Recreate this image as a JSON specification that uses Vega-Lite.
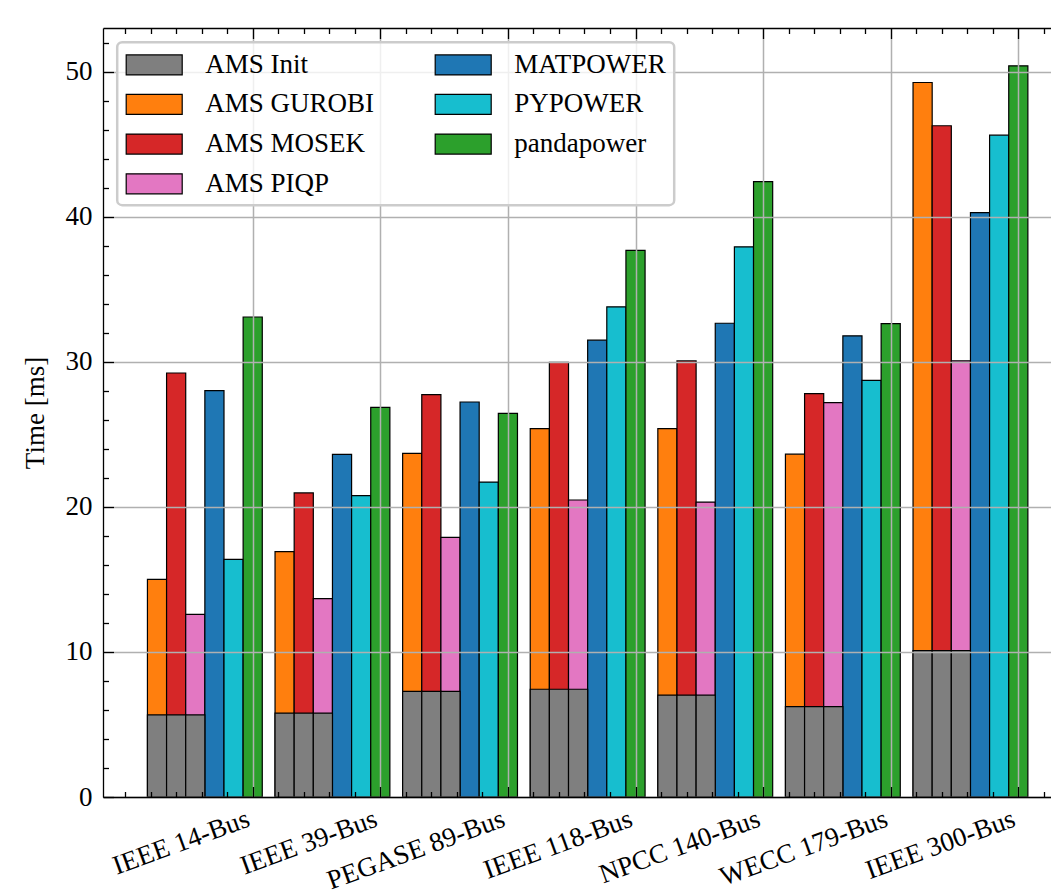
{
  "$schema": "https://vega.github.io/schema/vega-lite/v6.json",
  "width": 948,
  "height": 769,
  "autosize": {"type": "none"},
  "padding": {"left": 103, "top": 28, "right": 0, "bottom": 97},
  "background": "white",
  "config": {
    "view": {"stroke": null},
    "font": "Liberation Serif"
  },
  "data": {
    "values": [
      {"case": "IEEE 14-Bus", "solver": "AMS GUROBI", "init": 5.66, "total": 15.01},
      {"case": "IEEE 14-Bus", "solver": "AMS MOSEK", "init": 5.66, "total": 29.24},
      {"case": "IEEE 14-Bus", "solver": "AMS PIQP", "init": 5.66, "total": 12.6},
      {"case": "IEEE 14-Bus", "solver": "MATPOWER", "init": null, "total": 28.02},
      {"case": "IEEE 14-Bus", "solver": "PYPOWER", "init": null, "total": 16.39},
      {"case": "IEEE 14-Bus", "solver": "pandapower", "init": null, "total": 33.1},
      {"case": "IEEE 39-Bus", "solver": "AMS GUROBI", "init": 5.79, "total": 16.92},
      {"case": "IEEE 39-Bus", "solver": "AMS MOSEK", "init": 5.79, "total": 20.97},
      {"case": "IEEE 39-Bus", "solver": "AMS PIQP", "init": 5.79, "total": 13.68},
      {"case": "IEEE 39-Bus", "solver": "MATPOWER", "init": null, "total": 23.63},
      {"case": "IEEE 39-Bus", "solver": "PYPOWER", "init": null, "total": 20.78},
      {"case": "IEEE 39-Bus", "solver": "pandapower", "init": null, "total": 26.87},
      {"case": "PEGASE 89-Bus", "solver": "AMS GUROBI", "init": 7.29, "total": 23.7},
      {"case": "PEGASE 89-Bus", "solver": "AMS MOSEK", "init": 7.29, "total": 27.75},
      {"case": "PEGASE 89-Bus", "solver": "AMS PIQP", "init": 7.29, "total": 17.91},
      {"case": "PEGASE 89-Bus", "solver": "MATPOWER", "init": null, "total": 27.24},
      {"case": "PEGASE 89-Bus", "solver": "PYPOWER", "init": null, "total": 21.72},
      {"case": "PEGASE 89-Bus", "solver": "pandapower", "init": null, "total": 26.46},
      {"case": "IEEE 118-Bus", "solver": "AMS GUROBI", "init": 7.43, "total": 25.4},
      {"case": "IEEE 118-Bus", "solver": "AMS MOSEK", "init": 7.43, "total": 29.98},
      {"case": "IEEE 118-Bus", "solver": "AMS PIQP", "init": 7.43, "total": 20.48},
      {"case": "IEEE 118-Bus", "solver": "MATPOWER", "init": null, "total": 31.5},
      {"case": "IEEE 118-Bus", "solver": "PYPOWER", "init": null, "total": 33.8},
      {"case": "IEEE 118-Bus", "solver": "pandapower", "init": null, "total": 37.7},
      {"case": "NPCC 140-Bus", "solver": "AMS GUROBI", "init": 7.02, "total": 25.4},
      {"case": "NPCC 140-Bus", "solver": "AMS MOSEK", "init": 7.02, "total": 30.07},
      {"case": "NPCC 140-Bus", "solver": "AMS PIQP", "init": 7.02, "total": 20.34},
      {"case": "NPCC 140-Bus", "solver": "MATPOWER", "init": null, "total": 32.67},
      {"case": "NPCC 140-Bus", "solver": "PYPOWER", "init": null, "total": 37.94},
      {"case": "NPCC 140-Bus", "solver": "pandapower", "init": null, "total": 42.43},
      {"case": "WECC 179-Bus", "solver": "AMS GUROBI", "init": 6.23, "total": 23.64},
      {"case": "WECC 179-Bus", "solver": "AMS MOSEK", "init": 6.23, "total": 27.81},
      {"case": "WECC 179-Bus", "solver": "AMS PIQP", "init": 6.23, "total": 27.2},
      {"case": "WECC 179-Bus", "solver": "MATPOWER", "init": null, "total": 31.8},
      {"case": "WECC 179-Bus", "solver": "PYPOWER", "init": null, "total": 28.73},
      {"case": "WECC 179-Bus", "solver": "pandapower", "init": null, "total": 32.64},
      {"case": "IEEE 300-Bus", "solver": "AMS GUROBI", "init": 10.1, "total": 49.27},
      {"case": "IEEE 300-Bus", "solver": "AMS MOSEK", "init": 10.1, "total": 46.29},
      {"case": "IEEE 300-Bus", "solver": "AMS PIQP", "init": 10.1, "total": 30.08},
      {"case": "IEEE 300-Bus", "solver": "MATPOWER", "init": null, "total": 40.3},
      {"case": "IEEE 300-Bus", "solver": "PYPOWER", "init": null, "total": 45.64},
      {"case": "IEEE 300-Bus", "solver": "pandapower", "init": null, "total": 50.42}
    ]
  },
  "resolve": {"scale": {"x": "independent"}, "axis": {"x": "independent"}},
  "layer": [
    {
      "mark": {"type": "bar", "stroke": "black", "strokeWidth": 1.2},
      "encoding": {
        "x": {
          "field": "case", "type": "nominal",
          "scale": {
            "type": "band",
            "domain": ["IEEE 14-Bus", "IEEE 39-Bus", "PEGASE 89-Bus", "IEEE 118-Bus", "NPCC 140-Bus", "WECC 179-Bus", "IEEE 300-Bus"],
            "paddingInner": 0.1, "paddingOuter": 0.264734, "align": 0.6577, "round": false
          },
          "axis": null
        },
        "xOffset": {
          "field": "solver", "type": "nominal",
          "scale": {"domain": ["AMS GUROBI", "AMS MOSEK", "AMS PIQP", "MATPOWER", "PYPOWER", "pandapower"], "paddingInner": 0, "paddingOuter": 0}
        },
        "y": {
          "field": "total", "type": "quantitative",
          "scale": {"domain": [0, 53.03], "nice": false, "zero": true},
          "axis": {
            "values": [0, 2, 4, 6, 8, 10, 12, 14, 16, 18, 20, 22, 24, 26, 28, 30, 32, 34, 36, 38, 40, 42, 44, 46, 48, 50, 52],
            "tickCount": 200,
            "format": "d",
            "tickSize": {"condition": {"test": "datum.value % 10 === 0", "value": -10.5}, "value": -5.5},
            "tickColor": "black", "tickWidth": 1.3,
            "grid": true, "gridColor": "#b0b0b0", "gridWidth": 1.5,
            "gridOpacity": {"condition": {"test": "datum.value % 10 === 0", "value": 1}, "value": 0},
            "labelExpr": "datum.value % 10 === 0 ? datum.label : ''",
            "labelFont": "Liberation Serif", "labelFontSize": 27, "labelColor": "black",
            "labelPadding": 21.5, "labelOverlap": false, "labelFlush": false,
            "domainColor": "black", "domainWidth": 1.3,
            "title": "Time [ms]", "titleFont": "Liberation Serif", "titleFontSize": 27,
            "titleFontWeight": "normal", "titleColor": "black",
            "titleAngle": -90, "titleX": -60, "titleY": 384.5,
            "titleAlign": "center", "titleBaseline": "alphabetic",
            "zindex": 1
          }
        },
        "color": {
          "field": "solver", "type": "nominal",
          "scale": {
            "domain": ["AMS Init", "AMS GUROBI", "AMS MOSEK", "AMS PIQP", "MATPOWER", "PYPOWER", "pandapower"],
            "range": ["#7f7f7f", "#ff7f0e", "#d62728", "#e377c2", "#1f77b4", "#17becf", "#2ca02c"]
          },
          "legend": {
            "orient": "none", "legendX": 14.2, "legendY": 14.2,
            "title": null, "columns": 2,
            "symbolType": "M-1,-0.741H3.148V0.741H-1Z", "symbolSize": 729,
            "symbolStrokeColor": "black", "symbolStrokeWidth": 1.2, "symbolOpacity": 1,
            "labelFont": "Liberation Serif", "labelFontSize": 27, "labelColor": "black",
            "labelLimit": 400, "labelOffset": 51,
            "columnPadding": 58, "rowPadding": 11.7, "padding": 8,
            "fillColor": "rgba(255,255,255,0.8)", "strokeColor": "#cccccc",
            "cornerRadius": 5, "zindex": 2,
            "encode": {"legend": {"update": {"strokeWidth": {"value": 2.5}}}}
          }
        }
      }
    },
    {
      "transform": [{"filter": "isValid(datum.init)"}],
      "mark": {"type": "bar", "stroke": "black", "strokeWidth": 1.2},
      "encoding": {
        "x": {
          "field": "case", "type": "nominal",
          "scale": {
            "type": "band",
            "domain": ["IEEE 14-Bus", "IEEE 39-Bus", "PEGASE 89-Bus", "IEEE 118-Bus", "NPCC 140-Bus", "WECC 179-Bus", "IEEE 300-Bus"],
            "paddingInner": 0.1, "paddingOuter": 0.264734, "align": 0.6577, "round": false
          },
          "axis": null
        },
        "xOffset": {
          "field": "solver", "type": "nominal",
          "scale": {"domain": ["AMS GUROBI", "AMS MOSEK", "AMS PIQP", "MATPOWER", "PYPOWER", "pandapower"], "paddingInner": 0, "paddingOuter": 0}
        },
        "y": {"field": "init", "type": "quantitative"},
        "color": {"datum": "AMS Init", "type": "nominal"}
      }
    },
    {
      "mark": {"type": "rule", "opacity": 0},
      "encoding": {
        "x": {
          "datum": 0, "type": "quantitative",
          "scale": {"domain": [-1.1732, 6.25627], "nice": false, "zero": false},
          "axis": {
            "orient": "bottom",
            "values": [-1, -0.8, -0.6, -0.4, -0.2, 0, 0.2, 0.4, 0.6, 0.8, 1, 1.2, 1.4, 1.6, 1.8, 2, 2.2, 2.4, 2.6, 2.8, 3, 3.2, 3.4, 3.6, 3.8, 4, 4.2, 4.4, 4.6, 4.8, 5, 5.2, 5.4, 5.6, 5.8, 6, 6.2],
            "tickCount": 200,
            "tickSize": {"condition": {"test": "datum.value >= 0 && datum.value % 1 === 0", "value": -10.5}, "value": -5.5},
            "tickColor": "black", "tickWidth": 1.3,
            "grid": true, "gridColor": "#b0b0b0", "gridWidth": 1.5,
            "gridOpacity": {"condition": {"test": "datum.value >= 0 && datum.value % 1 === 0", "value": 1}, "value": 0},
            "labelExpr": "datum.value >= 0 && datum.value % 1 === 0 ? ['IEEE 14-Bus', 'IEEE 39-Bus', 'PEGASE 89-Bus', 'IEEE 118-Bus', 'NPCC 140-Bus', 'WECC 179-Bus', 'IEEE 300-Bus'][datum.value] : ''",
            "labelAngle": -20, "labelAlign": "right", "labelBaseline": "top",
            "labelFont": "Liberation Serif", "labelFontSize": 27, "labelColor": "black",
            "labelPadding": 19, "labelOffset": -9, "labelLimit": 400,
            "labelOverlap": false, "labelFlush": false, "labelBound": false,
            "domainColor": "black", "domainWidth": 1.3,
            "title": null, "zindex": 1
          }
        }
      }
    },
    {
      "mark": {"type": "rule", "opacity": 0},
      "encoding": {
        "x": {
          "datum": 0, "type": "quantitative",
          "scale": {"domain": [-1.1732, 6.25627], "nice": false, "zero": false},
          "axis": {
            "orient": "top",
            "values": [-1, -0.8, -0.6, -0.4, -0.2, 0, 0.2, 0.4, 0.6, 0.8, 1, 1.2, 1.4, 1.6, 1.8, 2, 2.2, 2.4, 2.6, 2.8, 3, 3.2, 3.4, 3.6, 3.8, 4, 4.2, 4.4, 4.6, 4.8, 5, 5.2, 5.4, 5.6, 5.8, 6, 6.2],
            "tickCount": 200,
            "tickSize": {"condition": {"test": "datum.value >= 0 && datum.value % 1 === 0", "value": -10.5}, "value": -5.5},
            "tickColor": "black", "tickWidth": 1.3,
            "grid": false, "labels": false,
            "domainColor": "black", "domainWidth": 1.3,
            "title": null, "zindex": 1
          }
        }
      }
    }
  ]
}
